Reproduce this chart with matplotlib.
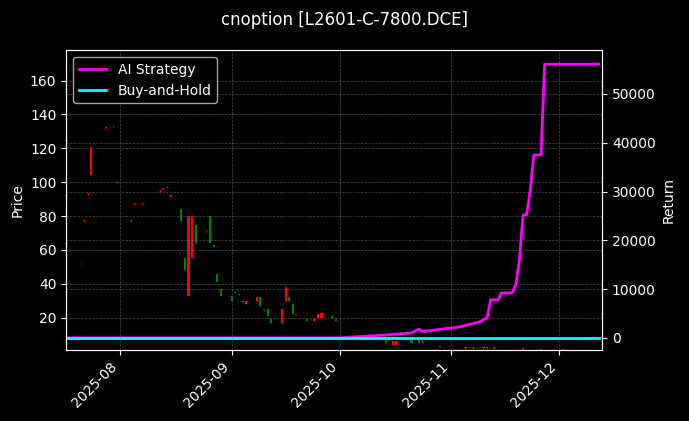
import matplotlib
matplotlib.use("Agg")
import matplotlib.pyplot as plt
import matplotlib.dates as mdates
import numpy as np
import pandas as pd

# candle data (date, open, high, low, close)
c_dates = ["2025-07-17", "2025-07-21", "2025-07-22", "2025-07-23", "2025-07-24", "2025-07-28",
           "2025-07-30", "2025-07-31", "2025-08-04", "2025-08-05", "2025-08-07", "2025-08-12",
           "2025-08-13", "2025-08-14", "2025-08-15", "2025-08-18", "2025-08-19", "2025-08-20",
           "2025-08-21", "2025-08-22", "2025-08-25", "2025-08-26", "2025-08-27", "2025-08-28",
           "2025-08-29", "2025-09-01", "2025-09-02", "2025-09-03", "2025-09-04", "2025-09-05",
           "2025-09-08", "2025-09-09", "2025-09-10", "2025-09-11", "2025-09-12", "2025-09-15",
           "2025-09-16", "2025-09-17", "2025-09-18", "2025-09-19", "2025-09-22", "2025-09-23",
           "2025-09-24", "2025-09-25", "2025-09-26", "2025-09-29", "2025-09-30", "2025-10-14",
           "2025-10-16", "2025-10-17", "2025-10-21", "2025-10-23", "2025-10-24", "2025-10-29",
           "2025-11-03", "2025-11-05", "2025-11-07", "2025-11-10", "2025-11-11", "2025-11-13",
           "2025-11-21", "2025-11-26", "2025-12-02"]
c_open = [32, 52, 77, 93, 104, 132, 133, 100, 77, 87, 87, 95,
          96, 97, 92, 84, 55, 33, 55, 75, 71, 80, 63, 46,
          37, 33, 35, 34, 30, 28, 30, 32, 25, 25, 19, 17,
          30, 32, 28, 22, 19, 19, 18, 20, 20, 21, 19, 7,
          4, 4, 7, 7, 6, 3, 3, 2, 2, 2, 2, 2,
          0.5, 1, 1]
c_high = [32.5, 52.5, 77.5, 93.5, 121, 132.5, 133.5, 100.5, 77.5, 87.5, 87.5, 95.5,
          96.5, 97.5, 92.5, 84, 55, 80, 80, 75, 71.5, 80, 63, 46,
          37, 33, 35, 34, 30, 30, 32, 32, 25, 25, 19, 25,
          38, 32, 28, 22, 19, 19.5, 20, 22, 23, 21, 19, 7,
          6, 6, 7, 7, 7, 3, 3.5, 2.5, 2.5, 2.5, 2.5, 2.5,
          2, 1.2, 1.2]
c_low = [31.5, 51.5, 76.5, 92.5, 104, 131.5, 132.5, 99.5, 76.5, 86.5, 86.5, 94.5,
         95.5, 96.5, 91.5, 77, 48, 33, 55, 64, 70.5, 64, 62, 41,
         33, 30, 34.5, 33.5, 29.5, 28, 30, 27, 24.5, 21, 17, 17,
         30, 30, 22, 21.5, 18, 18.5, 18, 20, 20, 20, 18, 5,
         4, 4, 5, 5, 5, 2.5, 2.5, 1.5, 1.5, 1.5, 1.5, 1.5,
         0, 0.8, 0.8]
c_close = [32.2, 52.2, 77.2, 93.2, 121, 132.2, 133.2, 100.2, 77.2, 87.2, 87.2, 95.2,
           96.2, 97.2, 92.2, 77, 48, 80, 80, 64, 71.2, 64, 62, 41,
           33, 30, 34.5, 33.5, 29.5, 30, 32, 27, 24.5, 21, 17, 25,
           38, 30, 22, 21.5, 18, 19.5, 20, 22, 23, 20, 18, 5,
           6, 6, 5, 5, 7, 2.5, 3.5, 2.5, 2.5, 2.5, 2.5, 2.5,
           2, 1.2, 1.2]

# return series
r_dates = ["2025-07-17", "2025-10-01", "2025-10-14", "2025-10-21", "2025-10-23", "2025-10-24",
           "2025-11-03", "2025-11-09", "2025-11-11", "2025-11-12", "2025-11-14", "2025-11-15",
           "2025-11-18", "2025-11-19", "2025-11-20", "2025-11-21", "2025-11-22", "2025-11-23",
           "2025-11-24", "2025-11-26", "2025-11-27", "2025-12-12"]
ai_ret = [0, 0, 600, 1000, 1800, 1300, 2200, 3300, 4100, 7800, 7800, 9200,
          9200, 10900, 16000, 25200, 25200, 30300, 37500, 37500, 56100, 56100]
bh_dates = ["2025-07-17", "2025-12-12"]
bh_ret = [0, 0]

plt.style.use("dark_background")
fig = plt.figure(figsize=(6.89, 4.21), dpi=100)
ax = fig.add_axes([0.096, 0.169, 0.778, 0.712])
ax2 = ax.twinx()

cd = pd.to_datetime(c_dates)
for d, o, h, l, c in zip(cd, c_open, c_high, c_low, c_close):
    col = "red" if c >= o else "green"
    x = mdates.date2num(d)
    ax.vlines(x, l, h, color=col, lw=0.8, zorder=2)
    ax.bar(x, max(abs(c - o), 0.4), bottom=min(o, c), width=0.6, color=col, zorder=2)

ax.set_ylim(1, 178)
ax.set_yticks(range(20, 161, 20))
ax.set_ylabel("Price")
ax.grid(True, color="gray", ls="--", lw=0.5, alpha=0.6)

ax2.plot(pd.to_datetime(r_dates), ai_ret, color="#ff00ff", lw=2, label="AI Strategy")
ax2.plot(pd.to_datetime(bh_dates), bh_ret, color="cyan", lw=2, label="Buy-and-Hold")
ax2.set_ylim(-2460, 59000)
ax2.set_ylabel("Return")
ax2.grid(True, color="gray", ls="--", lw=0.5, alpha=0.6)

ax.set_xlim(pd.Timestamp("2025-07-17"), pd.Timestamp("2025-12-13"))
ax.xaxis.set_major_locator(mdates.MonthLocator())
ax.xaxis.set_major_formatter(mdates.DateFormatter("%Y-%m"))
plt.setp(ax.get_xticklabels(), rotation=45, ha="right")

ax2.legend(loc="upper left")
fig.suptitle("cnoption [L2601-C-7800.DCE]", y=0.975)
fig.savefig("out.png", dpi=100)
